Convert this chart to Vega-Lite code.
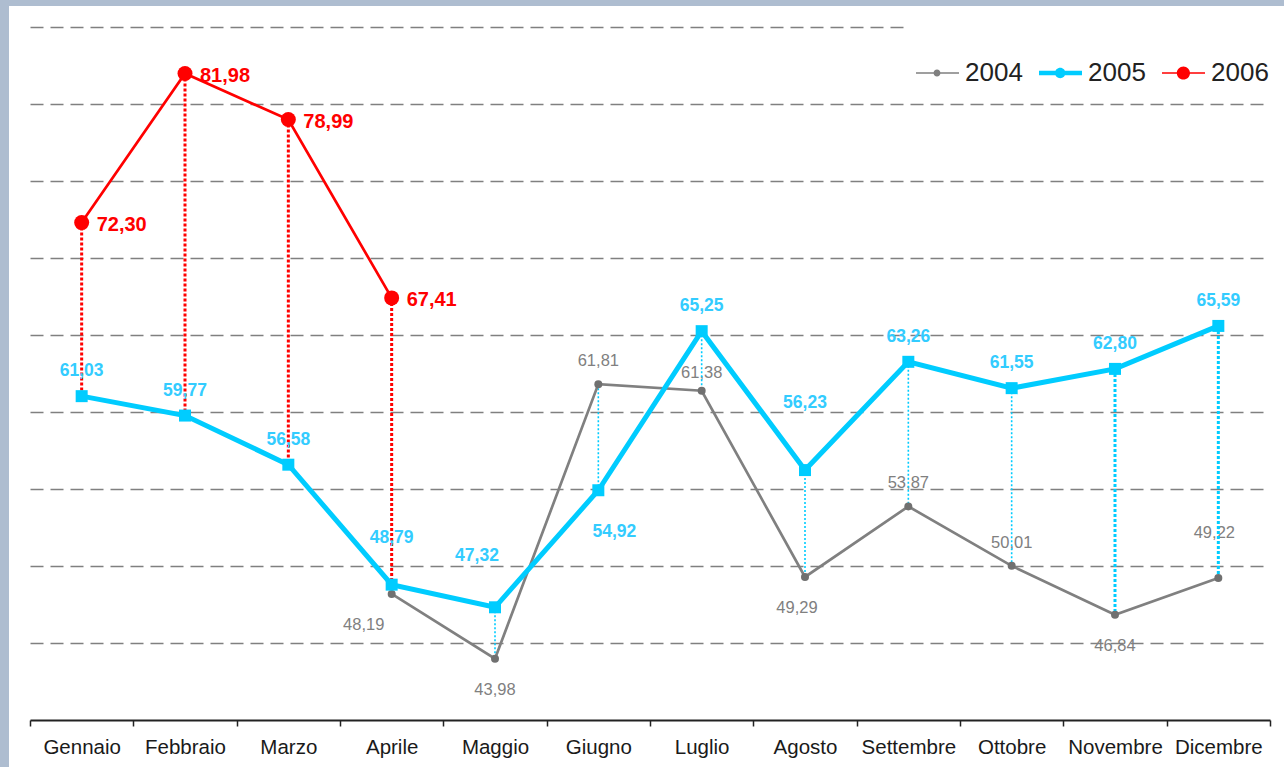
{
  "$schema": "https://vega.github.io/schema/vega-lite/v6.json",
  "width": 1254,
  "height": 740,
  "autosize": {"type": "none"},
  "padding": {"left": 30, "top": 27, "right": 0, "bottom": 0},
  "background": "#aebdd0",
  "config": {
    "locale": {"number": {"decimal": ",", "thousands": ".", "grouping": [3], "currency": ["", " €"]}},
    "view": {"fill": "white", "stroke": "white", "strokeWidth": 42},
    "font": "Liberation Sans"
  },
  "data": {
    "values": [
      {"month": "Aprile", "year": "2004", "value": 48.19},
      {"month": "Maggio", "year": "2004", "value": 43.98},
      {"month": "Giugno", "year": "2004", "value": 61.81},
      {"month": "Luglio", "year": "2004", "value": 61.38},
      {"month": "Agosto", "year": "2004", "value": 49.29},
      {"month": "Settembre", "year": "2004", "value": 53.87},
      {"month": "Ottobre", "year": "2004", "value": 50.01},
      {"month": "Novembre", "year": "2004", "value": 46.84},
      {"month": "Dicembre", "year": "2004", "value": 49.22},
      {"month": "Gennaio", "year": "2005", "value": 61.03},
      {"month": "Febbraio", "year": "2005", "value": 59.77},
      {"month": "Marzo", "year": "2005", "value": 56.58},
      {"month": "Aprile", "year": "2005", "value": 48.79},
      {"month": "Maggio", "year": "2005", "value": 47.32},
      {"month": "Giugno", "year": "2005", "value": 54.92},
      {"month": "Luglio", "year": "2005", "value": 65.25},
      {"month": "Agosto", "year": "2005", "value": 56.23},
      {"month": "Settembre", "year": "2005", "value": 63.26},
      {"month": "Ottobre", "year": "2005", "value": 61.55},
      {"month": "Novembre", "year": "2005", "value": 62.80},
      {"month": "Dicembre", "year": "2005", "value": 65.59},
      {"month": "Gennaio", "year": "2006", "value": 72.30},
      {"month": "Febbraio", "year": "2006", "value": 81.98},
      {"month": "Marzo", "year": "2006", "value": 78.99},
      {"month": "Aprile", "year": "2006", "value": 67.41}
    ]
  },
  "encoding": {
    "x": {
      "field": "month",
      "type": "nominal",
      "sort": ["Gennaio", "Febbraio", "Marzo", "Aprile", "Maggio", "Giugno", "Luglio", "Agosto", "Settembre", "Ottobre", "Novembre", "Dicembre"],
      "scale": {"type": "band", "range": [0, 1240], "paddingInner": 0, "paddingOuter": 0},
      "axis": {
        "title": null, "tickBand": "extent", "grid": false, "labelAngle": 0,
        "domainColor": "#222222", "domainWidth": 2, "tickColor": "#222222", "tickWidth": 1.5, "tickSize": 6,
        "labelFontSize": 20.5, "labelColor": "#1a1a1a", "labelPadding": 11, "labelFont": "Liberation Sans",
        "offset": -47
      }
    },
    "y": {
      "field": "value",
      "type": "quantitative",
      "scale": {"domain": [36.95, 85], "nice": false, "zero": false},
      "axis": {
        "title": null, "labels": false, "ticks": false, "domain": false,
        "values": [45, 50, 55, 60, 65, 70, 75, 80, 85],
        "grid": true, "gridDash": [13, 7], "gridColor": "#808080", "gridWidth": 1.5
      }
    }
  },
  "layer": [
    {
      "transform": [{"filter": {"field": "year", "equal": "2004"}}, {"filter": {"field": "month", "oneOf": ["Giugno", "Settembre", "Ottobre"]}}],
      "mark": {"type": "text", "dy": -23, "fontSize": 16.5, "color": "#808080"},
      "encoding": {"text": {"field": "value", "type": "quantitative", "format": ".2f"}}
    },
    {
      "transform": [{"filter": {"field": "year", "equal": "2004"}}, {"filter": {"field": "month", "oneOf": ["Luglio"]}}],
      "mark": {"type": "text", "dy": -18, "fontSize": 16.5, "color": "#808080"},
      "encoding": {"text": {"field": "value", "type": "quantitative", "format": ".2f"}}
    },
    {
      "transform": [{"filter": {"field": "year", "equal": "2004"}}, {"filter": {"field": "month", "oneOf": ["Dicembre"]}}],
      "mark": {"type": "text", "dy": -45, "dx": -4, "fontSize": 16.5, "color": "#808080"},
      "encoding": {"text": {"field": "value", "type": "quantitative", "format": ".2f"}}
    },
    {
      "transform": [{"filter": {"field": "year", "equal": "2004"}}, {"filter": {"field": "month", "oneOf": ["Maggio", "Novembre"]}}],
      "mark": {"type": "text", "dy": 31, "fontSize": 16.5, "color": "#808080"},
      "encoding": {"text": {"field": "value", "type": "quantitative", "format": ".2f"}}
    },
    {
      "transform": [{"filter": {"field": "year", "equal": "2004"}}, {"filter": {"field": "month", "oneOf": ["Agosto"]}}],
      "mark": {"type": "text", "dy": 31, "dx": -8, "fontSize": 16.5, "color": "#808080"},
      "encoding": {"text": {"field": "value", "type": "quantitative", "format": ".2f"}}
    },
    {
      "transform": [{"filter": {"field": "year", "equal": "2004"}}, {"filter": {"field": "month", "oneOf": ["Aprile"]}}],
      "mark": {"type": "text", "dy": 31, "dx": -28, "fontSize": 16.5, "color": "#808080"},
      "encoding": {"text": {"field": "value", "type": "quantitative", "format": ".2f"}}
    },
    {
      "transform": [{"pivot": "year", "value": "value", "groupby": ["month"]}, {"filter": "isValid(datum['2006'])"}],
      "mark": {"type": "rule", "color": "#ff0000", "strokeWidth": 3, "strokeDash": [3, 2]},
      "encoding": {"y": {"field": "2006", "type": "quantitative"}, "y2": {"field": "2005"}}
    },
    {
      "transform": [{"pivot": "year", "value": "value", "groupby": ["month"]}, {"filter": "isValid(datum['2004'])"}, {"filter": {"field": "month", "oneOf": ["Aprile", "Maggio", "Giugno", "Luglio", "Agosto", "Settembre", "Ottobre"]}}],
      "mark": {"type": "rule", "color": "#00ccff", "strokeWidth": 1.6, "strokeDash": [2, 2]},
      "encoding": {"y": {"field": "2005", "type": "quantitative"}, "y2": {"field": "2004"}}
    },
    {
      "transform": [{"pivot": "year", "value": "value", "groupby": ["month"]}, {"filter": "isValid(datum['2004'])"}, {"filter": {"field": "month", "oneOf": ["Novembre", "Dicembre"]}}],
      "mark": {"type": "rule", "color": "#00ccff", "strokeWidth": 3, "strokeDash": [3, 2]},
      "encoding": {"y": {"field": "2005", "type": "quantitative"}, "y2": {"field": "2004"}}
    },
    {
      "transform": [{"filter": {"field": "year", "equal": "2004"}}],
      "mark": {"type": "line", "strokeWidth": 2.7},
      "encoding": {
        "color": {
          "field": "year", "type": "nominal",
          "scale": {"domain": ["2004", "2005", "2006"], "range": ["#808080", "#00ccff", "#ff0000"]},
          "legend": {
            "title": null, "orient": "none", "legendX": 876, "legendY": -4, "direction": "horizontal",
            "padding": 10, "fillColor": "white", "symbolSize": 6400, "symbolStrokeWidth": 0,
            "labelFontSize": 26, "labelColor": "#222222", "labelFont": "Liberation Sans",
            "labelOffset": -31, "columnPadding": 16,
            "encode": {
              "symbols": {
                "update": {
                  "shape": {"signal": "datum.value == '2004' ? 'M-1,-0.019H0.075V0.019H-1Z M-0.3875,0A0.0875,0.0875 0 1,1 -0.5625,0A0.0875,0.0875 0 1,1 -0.3875,0Z' : datum.value == '2005' ? 'M-1,-0.055H0.075V0.055H-1Z M-0.34,0A0.13,0.13 0 1,1 -0.6,0A0.13,0.13 0 1,1 -0.34,0Z' : 'M-1,-0.019H0.075V0.019H-1Z M-0.3,0A0.165,0.165 0 1,1 -0.63,0A0.165,0.165 0 1,1 -0.3,0Z'"},
                  "fill": {"scale": "color", "field": "value"},
                  "opacity": {"value": 1}
                }
              }
            }
          }
        }
      }
    },
    {
      "transform": [{"filter": {"field": "year", "equal": "2004"}}],
      "mark": {"type": "point", "shape": "circle", "filled": true, "size": 64, "opacity": 1, "color": "#707070"}
    },
    {
      "transform": [{"filter": {"field": "year", "equal": "2005"}}],
      "mark": {"type": "line", "strokeWidth": 5},
      "encoding": {"color": {"field": "year", "type": "nominal"}}
    },
    {
      "transform": [{"filter": {"field": "year", "equal": "2005"}}],
      "mark": {"type": "point", "shape": "square", "filled": true, "size": 144, "opacity": 1, "color": "#00ccff"}
    },
    {
      "transform": [{"filter": {"field": "year", "equal": "2006"}}],
      "mark": {"type": "line", "strokeWidth": 2.7},
      "encoding": {"color": {"field": "year", "type": "nominal"}}
    },
    {
      "transform": [{"filter": {"field": "year", "equal": "2006"}}],
      "mark": {"type": "point", "shape": "circle", "filled": true, "size": 225, "opacity": 1, "color": "#ff0000"}
    },
    {
      "transform": [{"filter": {"field": "year", "equal": "2005"}}, {"filter": {"field": "month", "oneOf": ["Gennaio", "Febbraio", "Marzo", "Luglio", "Settembre", "Ottobre", "Novembre", "Dicembre"]}}],
      "mark": {"type": "text", "dy": -25, "fontSize": 17.5, "fontWeight": "bold", "color": "#33ccff"},
      "encoding": {"text": {"field": "value", "type": "quantitative", "format": ".2f"}}
    },
    {
      "transform": [{"filter": {"field": "year", "equal": "2005"}}, {"filter": {"field": "month", "oneOf": ["Aprile"]}}],
      "mark": {"type": "text", "dy": -47, "fontSize": 17.5, "fontWeight": "bold", "color": "#33ccff"},
      "encoding": {"text": {"field": "value", "type": "quantitative", "format": ".2f"}}
    },
    {
      "transform": [{"filter": {"field": "year", "equal": "2005"}}, {"filter": {"field": "month", "oneOf": ["Maggio"]}}],
      "mark": {"type": "text", "dy": -51, "dx": -18, "fontSize": 17.5, "fontWeight": "bold", "color": "#33ccff"},
      "encoding": {"text": {"field": "value", "type": "quantitative", "format": ".2f"}}
    },
    {
      "transform": [{"filter": {"field": "year", "equal": "2005"}}, {"filter": {"field": "month", "oneOf": ["Giugno"]}}],
      "mark": {"type": "text", "dy": 42, "dx": 16, "fontSize": 17.5, "fontWeight": "bold", "color": "#33ccff"},
      "encoding": {"text": {"field": "value", "type": "quantitative", "format": ".2f"}}
    },
    {
      "transform": [{"filter": {"field": "year", "equal": "2005"}}, {"filter": {"field": "month", "oneOf": ["Agosto"]}}],
      "mark": {"type": "text", "dy": -67, "fontSize": 17.5, "fontWeight": "bold", "color": "#33ccff"},
      "encoding": {"text": {"field": "value", "type": "quantitative", "format": ".2f"}}
    },
    {
      "transform": [{"filter": {"field": "year", "equal": "2006"}}],
      "mark": {"type": "text", "align": "left", "dx": 15, "dy": 2, "fontSize": 20, "fontWeight": "bold", "color": "#ff0000"},
      "encoding": {"text": {"field": "value", "type": "quantitative", "format": ".2f"}}
    }
  ]
}
